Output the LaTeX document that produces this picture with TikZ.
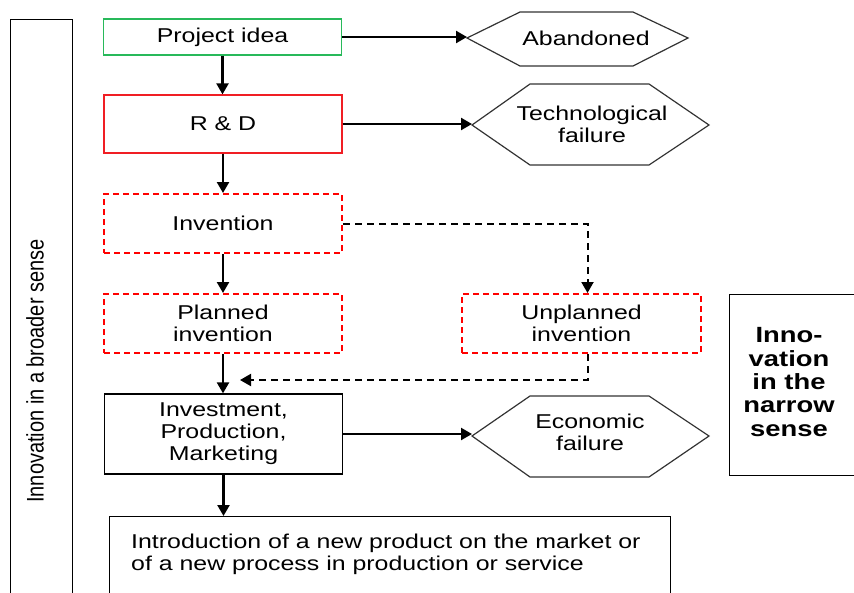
\documentclass[tikz,border=0pt]{standalone}
\usepackage{fontspec}
\setmainfont{Liberation Sans}[FakeStretch=1.245]
\newfontfamily\plainsans{Liberation Sans}
\usetikzlibrary{arrows.meta}
\definecolor{ideagreen}{RGB}{40,185,90}
\definecolor{rdred}{RGB}{240,30,36}

\begin{document}
\begin{tikzpicture}[x=1pt,y=-1pt,
		box/.style={draw,line width=1.3pt,minimum width=238pt,inner sep=2pt,align=center,font=\fontsize{20}{22}\selectfont},
		dashbox/.style={box,draw=red,line width=2pt,dash pattern=on 6pt off 4pt},
		hexa/.style={draw=black!80,line width=1.2pt},
		txt/.style={align=center,font=\fontsize{20}{22}\selectfont},
		arr/.style={line width=2.3pt,-{Triangle[length=11pt,width=12pt]}},
		dasharr/.style={arr,line width=2pt,dash pattern=on 7pt off 5pt}]
		\useasboundingbox (0,0) rectangle (854,592);
		% outer frames
		\node (broad) [draw,line width=1.3pt,anchor=north west,minimum width=62pt,minimum height=700pt] at (10,19) {};
		\node (broadtxt) [rotate=90,font=\plainsans\fontsize{20}{22}\selectfont] at (35,371) {\scalebox{1}[1.2]{Innovation in a broader sense}};
		\node (narrow) [draw,line width=1.3pt,anchor=north west,minimum width=150pt,minimum height=181pt] at (729,294) {};
		\node (narrowtxt) [align=center,font=\bfseries\fontsize{22}{23.4}\selectfont] at (789,382) {Inno-\\vation\\in the\\narrow\\sense};
		% main column
		\node (idea) [box,draw=ideagreen,minimum height=36pt] at (222.5,37) {Project idea};
		\node (rd) [box,draw=rdred,minimum height=58pt] at (223,124) {R \& D};
		\node (inv) [dashbox,minimum height=59pt] at (223,223.5) {Invention};
		\node (plan) [dashbox,minimum height=59pt] at (223,323.5) {Planned\\invention};
		\node (unplan) [dashbox,minimum height=59pt,minimum width=239pt] at (581.5,323.5) {Unplanned\\invention};
		\node (invest) [box,minimum height=80pt] at (223.5,434) {Investment,\\Production,\\Marketing};
		\node (intro) [box,anchor=north west,minimum width=561pt,minimum height=130pt] at (109,516) {};
		\node (introtxt) [txt,align=left,anchor=north west,inner sep=0pt] at (131,533.5) {Introduction of a new product on the market or\\of a new process in production or service};
		% failures
		\coordinate (abandtip) at (467,38);
		\draw[hexa] (abandtip) -- (520,12) -- (633,12) -- (688,38) -- (633,66) -- (520,66) -- cycle;
		\node (aband) [txt] at (586,38) {Abandoned};
		\coordinate (techtip) at (472,125);
		\draw[hexa] (techtip) -- (530,84) -- (649,84) -- (709,125) -- (649,165) -- (530,165) -- cycle;
		\node (tech) [txt] at (592,124) {Technological\\failure};
		\coordinate (econtip) at (472,436);
		\draw[hexa] (econtip) -- (530,396) -- (649,396) -- (709,436) -- (649,477) -- (530,477) -- cycle;
		\node (econ) [txt] at (590,432) {Economic\\failure};
		% arrows
		\draw[arr] (idea.south) -- (idea.south |- rd.north);
		\draw[arr] (rd.south) -- (rd.south |- inv.north);
		\draw[arr] (inv.south) -- (inv.south |- plan.north);
		\draw[arr] (plan.south) -- (plan.south |- invest.north);
		\draw[arr] (invest.south) -- (invest.south |- intro.north);
		\draw[arr] (idea.east) -- (idea.east -| abandtip);
		\draw[arr] (rd.east) -- (rd.east -| techtip);
		\draw[arr] (invest.east) -- (invest.east -| econtip);
		% unplanned path
		\draw[dasharr] (inv.east) -| ([xshift=6pt]unplan.north);
		\coordinate (back) at (240,380);
		\draw[dasharr] ([xshift=6pt]unplan.south) |- (back);
	\end{tikzpicture}
\end{document}
